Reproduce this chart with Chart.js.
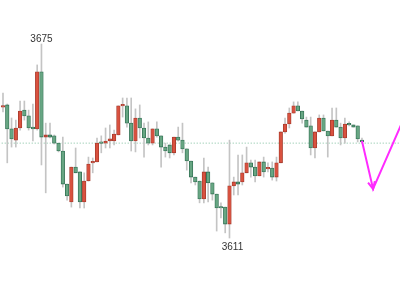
<!DOCTYPE html>
<html>
<head>
<meta charset="utf-8">
<script src="https://cdn.jsdelivr.net/npm/chart.js@4.4.1/dist/chart.umd.min.js"></script>
<style>
  html, body { margin: 0; padding: 0; background: #fff; }
  #wrap { width: 400px; height: 300px; position: relative; }
</style>
</head>
<body>
<div id="wrap"><canvas id="grafico"></canvas></div>
<script>
// Velas: apertura, máximo, mínimo, cierre (una por índice)
const opens = [
  3654.2, 3654.9, 3647.0, 3643.3, 3647.3, 3653.2, 3651.3, 3647.6, 3647.0, 3665.8,
  3644.3, 3645.0, 3644.7, 3642.3, 3639.7, 3628.8, 3622.9, 3634.4, 3632.8, 3622.9,
  3629.8, 3635.8, 3636.1, 3642.4, 3642.3, 3643.0, 3643.0, 3645.0, 3654.6, 3654.6,
  3648.9, 3643.0, 3650.6, 3647.3, 3644.0, 3642.3, 3647.0, 3644.7, 3641.0, 3641.7,
  3639.1, 3644.3, 3643.3, 3640.4, 3636.4, 3631.1, 3629.8, 3623.9, 3632.8, 3629.2,
  3625.5, 3621.2, 3621.2, 3615.6, 3628.2, 3629.5, 3629.5, 3632.5, 3635.8, 3634.4,
  3631.5, 3636.1, 3633.8, 3634.1, 3631.1, 3635.8, 3646.0, 3648.6, 3652.2, 3654.6,
  3652.9, 3649.9, 3648.0, 3640.7, 3646.0, 3650.6, 3646.3, 3644.7, 3649.9, 3647.6,
  3644.0, 3648.6, 3648.3, 3648.0, 3643.3
];
const highs = [
  3658.8, 3655.2, 3650.6, 3649.9, 3656.2, 3656.2, 3653.2, 3655.2, 3668.1, 3675.0,
  3648.9, 3648.9, 3645.0, 3642.3, 3644.3, 3628.8, 3634.4, 3640.7, 3632.8, 3632.5,
  3637.7, 3637.4, 3644.0, 3644.7, 3647.3, 3648.3, 3646.6, 3654.6, 3657.2, 3657.2,
  3657.2, 3653.6, 3654.9, 3648.9, 3649.3, 3647.0, 3649.3, 3644.7, 3642.3, 3641.7,
  3644.3, 3647.6, 3648.9, 3640.4, 3636.4, 3631.1, 3629.8, 3637.4, 3634.4, 3629.2,
  3625.5, 3622.6, 3621.2, 3643.3, 3631.1, 3638.4, 3638.4, 3641.0, 3636.7, 3636.7,
  3636.1, 3637.7, 3635.8, 3636.1, 3637.7, 3646.0, 3650.6, 3653.9, 3655.9, 3655.9,
  3652.9, 3650.9, 3650.9, 3646.0, 3651.6, 3651.6, 3646.3, 3653.9, 3653.9, 3648.9,
  3650.6, 3649.3, 3648.3, 3648.0, 3644.0
];
const lows = [
  3652.6, 3635.8, 3641.0, 3641.0, 3646.6, 3649.9, 3646.6, 3643.0, 3646.6, 3635.1,
  3625.9, 3644.0, 3642.0, 3639.4, 3627.8, 3623.5, 3621.2, 3632.5, 3620.9, 3620.9,
  3629.8, 3632.5, 3636.1, 3639.1, 3640.7, 3640.7, 3641.7, 3645.0, 3650.9, 3647.6,
  3639.7, 3639.4, 3644.0, 3637.7, 3641.7, 3641.7, 3644.3, 3634.4, 3637.7, 3637.4,
  3638.4, 3643.0, 3639.1, 3633.4, 3629.2, 3628.5, 3622.6, 3622.6, 3622.9, 3623.5,
  3613.3, 3617.6, 3612.7, 3611.0, 3625.2, 3625.2, 3628.5, 3632.5, 3631.1, 3629.5,
  3631.5, 3631.1, 3632.8, 3630.1, 3629.8, 3635.8, 3645.6, 3647.3, 3652.2, 3652.9,
  3648.9, 3647.6, 3638.4, 3637.4, 3646.0, 3646.3, 3637.7, 3644.7, 3647.6, 3641.7,
  3642.3, 3648.0, 3647.6, 3642.7, 3642.3
];
const closes = [
  3654.6, 3647.0, 3643.7, 3647.3, 3652.9, 3651.3, 3647.3, 3647.0, 3665.8, 3644.3,
  3645.0, 3644.3, 3642.3, 3639.7, 3628.8, 3624.9, 3634.4, 3632.5, 3622.9, 3629.8,
  3635.4, 3636.1, 3642.3, 3642.2, 3643.0, 3643.7, 3645.3, 3654.6, 3654.9, 3648.9,
  3643.0, 3650.6, 3647.3, 3644.0, 3642.3, 3647.0, 3644.7, 3641.0, 3639.7, 3639.1,
  3644.3, 3643.3, 3640.4, 3636.4, 3631.1, 3629.5, 3623.9, 3632.8, 3629.2, 3625.5,
  3620.9, 3620.9, 3615.6, 3628.2, 3629.5, 3628.8, 3632.5, 3635.8, 3634.4, 3631.5,
  3636.1, 3632.8, 3634.1, 3631.1, 3635.8, 3646.0, 3648.6, 3652.2, 3654.6, 3652.9,
  3650.3, 3647.6, 3640.7, 3646.0, 3650.6, 3646.3, 3644.7, 3649.9, 3647.6, 3644.0,
  3648.6, 3648.3, 3647.6, 3643.7, 3642.7
];

// Nivel de la línea punteada
const refLevel = 3642.3;

// Trayectoria proyectada (índice, precio)
const projX = [84, 86.6, 94];
const projY = [3643.0, 3627.2, 3651.1];

// Colores
const rojo = '#d9513f', rojoBorde = '#a3392b';
const verde = '#67a683', verdeBorde = '#2f6d50';

const subida = i => closes[i] >= opens[i];

// Etiquetas de máximo / mínimo y punta de flecha
const marcas = {
    id: 'marcas',
    afterDatasetsDraw(chart) {
        const { ctx, scales: { x, y } } = chart;
        const top = Math.max(...highs);
        const bottom = Math.min(...lows);
        const iTop = highs.indexOf(top);
        const iBottom = lows.indexOf(bottom);

        ctx.save();
        ctx.font = '10px "Liberation Sans", Arial, sans-serif';
        ctx.fillStyle = '#333';
        ctx.textAlign = 'center';
        ctx.textBaseline = 'alphabetic';
        ctx.fillText(String(Math.round(top)), x.getPixelForValue(iTop), y.getPixelForValue(top) - 2);
        ctx.fillText(String(Math.round(bottom)), x.getPixelForValue(iBottom) + 3, y.getPixelForValue(bottom) + 12);

        // punta de flecha en el punto más bajo de la proyección
        const x0 = x.getPixelForValue(projX[0]), y0 = y.getPixelForValue(projY[0]);
        const x1 = x.getPixelForValue(projX[1]), y1 = y.getPixelForValue(projY[1]);
        const ang = Math.atan2(y1 - y0, x1 - x0);
        const len = 8, abre = 0.45;
        ctx.strokeStyle = '#ff2bff';
        ctx.lineWidth = 2;
        ctx.beginPath();
        ctx.moveTo(x1 - len * Math.cos(ang - abre), y1 - len * Math.sin(ang - abre));
        ctx.lineTo(x1, y1);
        ctx.lineTo(x1 - len * Math.cos(ang + abre), y1 - len * Math.sin(ang + abre));
        ctx.stroke();
        ctx.restore();
    }
};

const ctxGrafico = document.getElementById('grafico').getContext('2d');
new Chart(ctxGrafico, {
    type: 'bar',
    data: {
        datasets: [
            {
                type: 'line',
                data: projX.map((v, i) => ({ x: v, y: projY[i] })),
                borderColor: '#ff2bff',
                borderWidth: 2,
                pointRadius: 0,
                tension: 0,
                order: 0
            },
            {
                data: opens.map((o, i) => ({ x: i, y: [o, closes[i]] })),
                backgroundColor: c => subida(c.dataIndex) ? rojo : verde,
                borderColor: c => subida(c.dataIndex) ? rojoBorde : verdeBorde,
                borderWidth: 0.8,
                borderSkipped: false,
                barThickness: 3.6,
                minBarLength: 1.5,
                grouped: false,
                order: 1
            },
            {
                data: lows.map((l, i) => ({ x: i, y: [l, highs[i]] })),
                backgroundColor: '#c4c4c4',
                borderWidth: 0,
                barThickness: 1,
                grouped: false,
                order: 2
            },
            {
                type: 'line',
                data: [{ x: -1, y: refLevel }, { x: 95, y: refLevel }],
                borderColor: '#7dbf9e',
                borderWidth: 1,
                borderDash: [1, 2],
                pointRadius: 0,
                order: 3
            }
        ]
    },
    options: {
        responsive: true,
        maintainAspectRatio: false,
        animation: false,
        layout: { padding: 0 },
        plugins: {
            legend: { display: false },
            tooltip: { enabled: false }
        },
        scales: {
            x: { type: 'linear', min: -0.7, max: 92.9, offset: false, display: false },
            y: { min: 3590.55, max: 3689.52, display: false }
        }
    },
    plugins: [marcas]
});
</script>
</body>
</html>
